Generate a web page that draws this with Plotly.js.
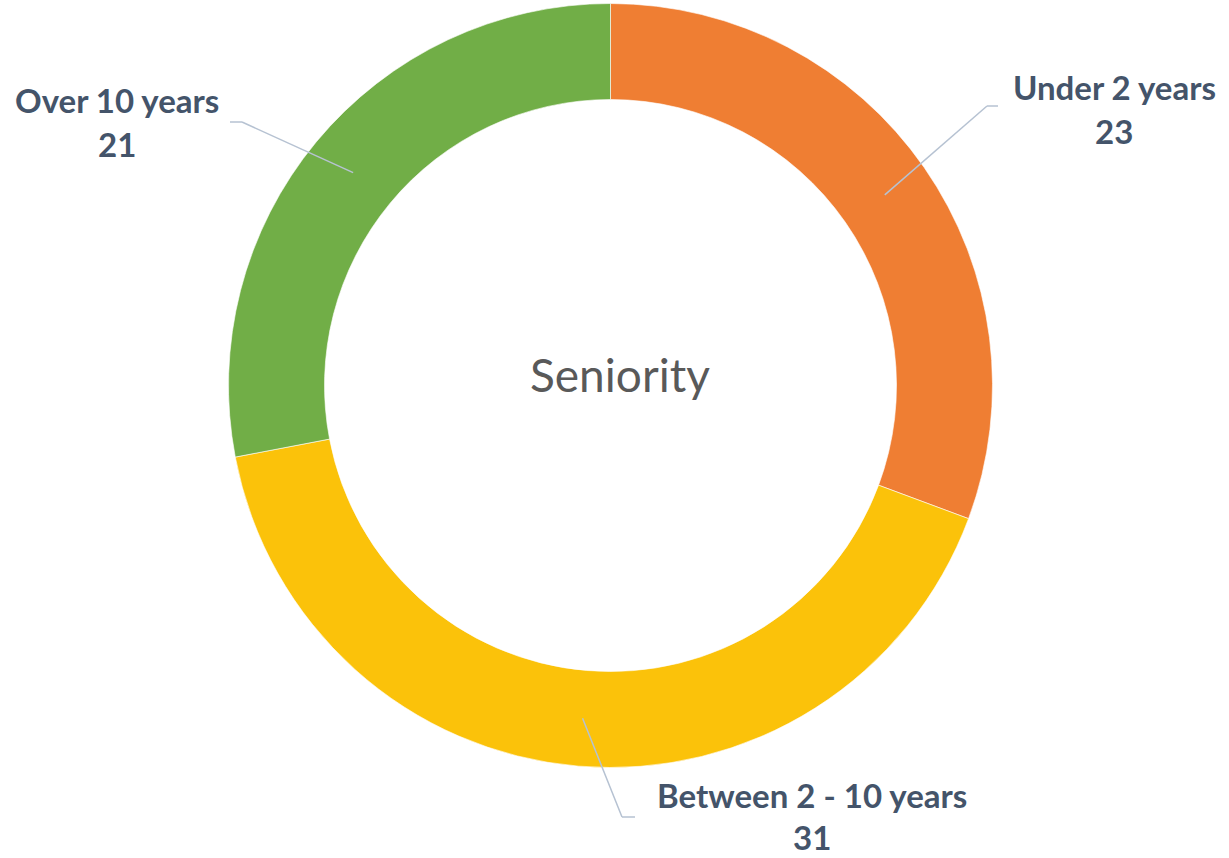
<!DOCTYPE html>
<html>
<head>
<meta charset="utf-8">
<script src="https://cdn.plot.ly/plotly-3.0.1.min.js"></script>
<style>html,body{margin:0;padding:0;background:#fff;}#chart{width:1229px;height:858px;}</style>
</head>
<body>
<div id="chart"></div>
<script>
const categories = ["Under 2 years", "Between 2 - 10 years", "Over 10 years"];
const values = [23, 31, 21];
const colors = ["#EF7E33", "#FBC20A", "#71AE47"];
const centerTitle = "Seniority";

const W = 1229, H = 858;
const cx = 610.5, cy = 385.5, rOut = 382, rIn = 286;
const px = x => x / W;
const py = y => 1 - y / H;

// label placement (layout only): elbow point, horizontal tail end, label center, value center
const labelLayout = [
  {ex: 987, ey: 106, tx: 998, lx: 1114, ly: 87, vy: 131},
  {ex: 622, ey: 817, tx: 635, lx: 812, ly: 795, vy: 837},
  {ex: 242, ey: 122, tx: 230, lx: 117, ly: 100, vy: 144}
];

const total = values.reduce((a, b) => a + b, 0);
const shapes = [];
const annotations = [];
let cum = 0;
const rMid = (rOut + rIn) / 2;
const lineStyle = {color: "#B6C2D2", width: 1.5};
const labelFont = {family: "Lato", size: 33, color: "#44546A"};
values.forEach((v, i) => {
  const mid = (cum + v / 2) / total * 2 * Math.PI;
  cum += v;
  const sx = cx + rMid * Math.sin(mid), sy = cy - rMid * Math.cos(mid);
  const L = labelLayout[i];
  shapes.push({type: "line", xref: "paper", yref: "paper", x0: px(sx), y0: py(sy), x1: px(L.ex), y1: py(L.ey), line: lineStyle});
  shapes.push({type: "line", xref: "paper", yref: "paper", x0: px(L.ex), y0: py(L.ey), x1: px(L.tx), y1: py(L.ey), line: lineStyle});
  annotations.push({text: "<b>" + categories[i] + "</b>", xref: "paper", yref: "paper", x: px(L.lx), y: py(L.ly),
    xanchor: "center", yanchor: "middle", showarrow: false, font: labelFont});
  annotations.push({text: "<b>" + v + "</b>", xref: "paper", yref: "paper", x: px(L.lx), y: py(L.vy),
    xanchor: "center", yanchor: "middle", showarrow: false, font: labelFont});
});
annotations.push({text: centerTitle, xref: "paper", yref: "paper", x: px(620), y: py(374), xanchor: "center", yanchor: "middle",
  showarrow: false, font: {family: "Lato", size: 46, color: "#595959"}});

const trace = {
  type: "pie",
  labels: categories,
  values: values,
  hole: rIn / rOut,
  sort: false,
  direction: "clockwise",
  rotation: 0,
  textinfo: "none",
  hoverinfo: "label+value",
  marker: {colors: colors, line: {color: "rgba(255,255,255,0.6)", width: 1}},
  domain: {x: [px(cx - rOut), px(cx + rOut)], y: [py(cy + rOut), py(cy - rOut)]}
};

Plotly.newPlot("chart", [trace], {
  width: W, height: H,
  margin: {l: 0, r: 0, t: 0, b: 0},
  paper_bgcolor: "#fff",
  showlegend: false,
  shapes: shapes,
  annotations: annotations
}, {displayModeBar: false, staticPlot: true});
</script>
</body>
</html>
